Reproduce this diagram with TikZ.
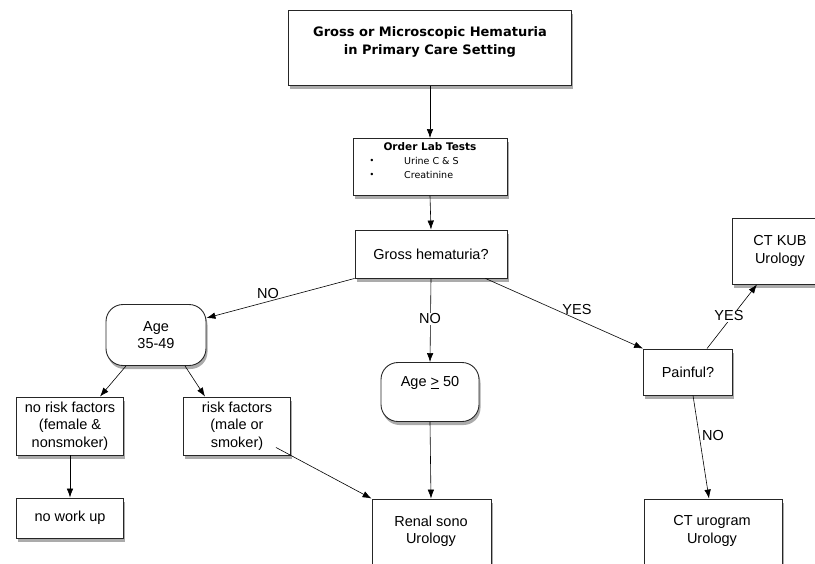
\documentclass[tikz,border=0pt]{standalone}
\usepackage{fontspec}
\setmainfont{Liberation Sans}
\newfontfamily\headfont{DejaVu Sans}
\usetikzlibrary{shadows, arrows.meta}

\begin{document}
\begin{tikzpicture}[x=1pt, y=-1pt,
        box/.style={draw=black!85, line width=0.9pt, fill=white,
            drop shadow={shadow xshift=1.5pt, shadow yshift=-3.5pt, fill=black!55, opacity=.6}},
        roundbox/.style={box, rounded corners=17pt},
        txt/.style={align=center, font=\fontsize{14.5}{17.5}\selectfont},
        arr/.style={-{Latex[length=9pt,width=6.5pt]}, line width=0.6pt}]
    \clip (0,0) rectangle (815,563);

    % title
    \node[box, minimum width=283pt, minimum height=75pt] (title) at (430,48) {};
        \node[align=center, font=\headfont\bfseries\fontsize{13}{18}\selectfont] (titletxt) at (430,42)
            {Gross or Microscopic Hematuria\\in Primary Care Setting};

    % lab tests
    \node[box, minimum width=154pt, minimum height=57pt] (lab) at (430,167) {};
        \node[font=\headfont\bfseries\fontsize{10.5}{12}\selectfont] (labtxt) at (430,147) {Order Lab Tests};
        \node[font=\fontsize{9}{10}\selectfont] (bul1) at (372,161) {\textbullet};
        \node[font=\fontsize{9}{10}\selectfont] (bul2) at (372,175) {\textbullet};
        \node[anchor=west, inner sep=0pt, font=\headfont\fontsize{9.5}{11}\selectfont] (urine) at (404,161) {Urine C \& S};
        \node[anchor=west, inner sep=0pt, font=\headfont\fontsize{9.5}{11}\selectfont] (creat) at (404,175) {Creatinine};

    \node[box, txt, minimum width=152pt, minimum height=48pt] (gross) at (431,254) {Gross hematuria?};

    % left branch
    \node[roundbox, txt, minimum width=100pt, minimum height=61pt] (age) at (156,335) {Age\\35-49};
    \node[box, txt, minimum width=107pt, minimum height=58pt] (nrisk) at (70,426) {no risk factors\\(female \&\\nonsmoker)};
    \node[box, txt, minimum width=107pt, minimum height=58pt] (risk) at (237,426) {risk factors\\(male or\\smoker)};
    \node[box, txt, minimum width=107pt, minimum height=40pt] (nowork) at (70,518) {no work up};

    % middle branch
    \node[roundbox, minimum width=98pt, minimum height=59pt] (ageold) at (430,392) {};
        \node[txt] (ageoldtxt) at (430,383) {Age \underline{>} 50};
    \node[box, minimum width=119pt, minimum height=82pt] (sono) at (431.5,540) {};
        \node[txt] (sonotxt) at (431,531) {Renal sono\\Urology};

    % right branch
    \node[box, txt, minimum width=89pt, minimum height=46pt] (painful) at (688,372) {Painful?};
    \node[box, txt, minimum width=96pt, minimum height=66pt] (ctkub) at (780,251) {CT KUB\\Urology};
    \node[box, minimum width=138pt, minimum height=82pt] (ctu) at (713,540) {};
        \node[txt] (ctutxt) at (712,531) {CT urogram\\Urology};

    % connectors
    \draw[arr] (title.south) -- (lab.north);
    \draw[arr] (lab.south) -- (gross.north);
    \draw[arr] (gross.south west) -- ([yshift=17pt]age.east);
    \draw[arr] (gross.south) -- (ageold.north);
    \draw[arr] ([xshift=-22pt]gross.south east) -- (painful.north west);
    \draw[arr] ([xshift=19pt]painful.north) -- ([xshift=-23pt]ctkub.south);
    \draw[arr] ([xshift=5pt]painful.south) -- ([xshift=-4pt]ctu.north);
    \draw[arr] ([xshift=-30pt]age.south) -- ([xshift=30pt]nrisk.north);
    \draw[arr] ([xshift=29pt]age.south) -- ([xshift=-32pt]risk.north);
    \draw[arr] (nrisk.south) -- (nowork.north);
    \draw[arr] ([xshift=-15pt, yshift=8pt]risk.south east) -- (sono.north west);
    \draw[arr] (ageold.south) -- ([xshift=-0.5pt]sono.north);

    % branch labels
    \node[txt] (no1) at (268,294) {NO};
    \node[txt, fill=white, inner sep=1pt] (no2) at (430,319) {NO};
    \node[txt] (yes1) at (577,310) {YES};
    \node[txt, fill=white, inner sep=1pt] (yes2) at (729,316) {YES};
    \node[txt] (no3) at (713,436) {NO};
\end{tikzpicture}
\end{document}
